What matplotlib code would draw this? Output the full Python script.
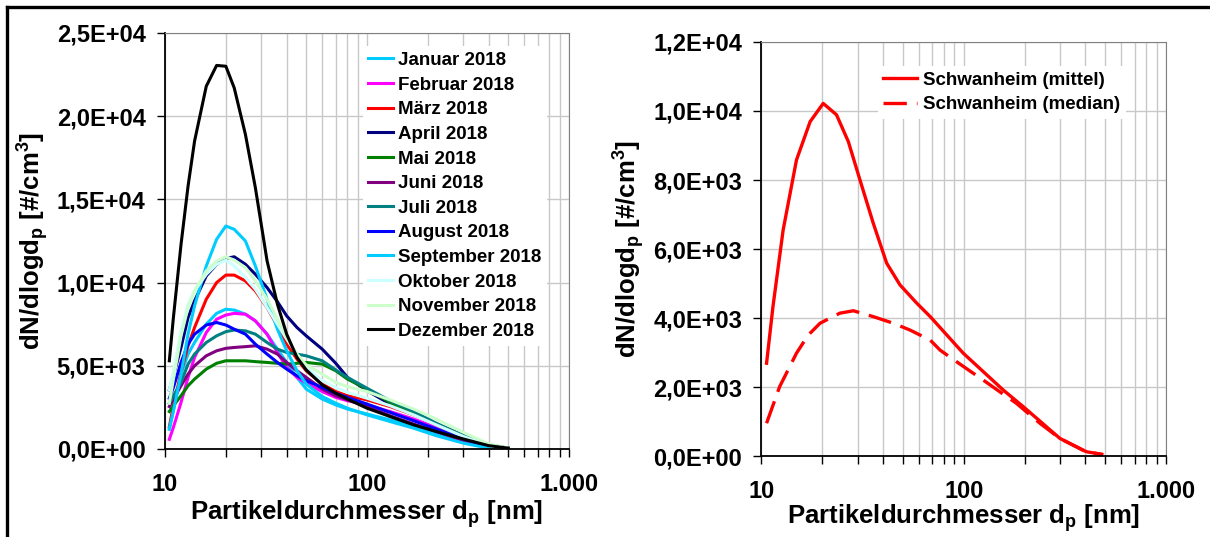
import numpy as np
import matplotlib
matplotlib.use('Agg')
import matplotlib.pyplot as plt
from matplotlib.lines import Line2D
from matplotlib.ticker import LogLocator, NullFormatter, FuncFormatter

plt.rcParams['font.family'] = ['Liberation Sans', 'DejaVu Sans']
plt.rcParams['font.weight'] = 'bold'
plt.rcParams['mathtext.fontset'] = 'custom'
plt.rcParams['mathtext.rm'] = 'Liberation Sans:bold'
plt.rcParams['mathtext.bf'] = 'Liberation Sans:bold'

# particle diameter grid of the monthly curves [nm]
diam = [10.5, 11, 12, 13, 14, 16, 18, 20, 22, 25, 28, 32, 36, 40, 45, 50,
        60, 70, 80, 100, 130, 170, 220, 300, 400, 500]

months = ['Januar 2018', 'Februar 2018', 'März 2018', 'April 2018', 'Mai 2018',
          'Juni 2018', 'Juli 2018', 'August 2018', 'September 2018',
          'Oktober 2018', 'November 2018', 'Dezember 2018']
month_colors = ['#00CCFF', '#FF00FF', '#FF0000', '#000080', '#008000', '#800080',
                '#008080', '#0000FF', '#00CCFF', '#CCFFFF', '#CCFFCC', '#000000']

jan = [1180, 2300, 4500, 5700, 6400, 7500, 8150, 8400, 8350, 8100, 7700, 6900, 6000,
       5200, 4300, 3600, 3000, 2650, 2400, 2100, 1750, 1350, 950, 450, 100, 0]
feb = [580, 1300, 2800, 4300, 5500, 7000, 7800, 8050, 8150, 8100, 7700, 6900, 5800,
       4900, 4300, 3950, 3450, 3100, 2900, 2650, 2250, 1800, 1300, 650, 200, 30]
mar = [1340, 2600, 4600, 6200, 7300, 9000, 10000, 10450, 10450, 10100, 9500, 8500, 7400,
       6300, 5400, 4700, 3900, 3450, 3200, 2950, 2550, 2050, 1500, 800, 250, 50]
apr = [3550, 4400, 6100, 7900, 8900, 10400, 11100, 11450, 11550, 11100, 10500, 9700, 8850,
       8000, 7300, 6800, 6000, 5150, 4300, 3500, 2700, 2100, 1500, 800, 250, 50]
mai = [2250, 2600, 3200, 3800, 4200, 4800, 5150, 5300, 5300, 5300, 5250, 5200, 5150,
       5100, 5150, 5200, 5100, 4700, 4200, 3600, 2800, 2100, 1450, 750, 200, 40]
jun = [2550, 3000, 3800, 4500, 5000, 5600, 5900, 6050, 6100, 6150, 6200, 6000, 5700,
       5200, 4700, 4300, 3600, 3200, 2950, 2550, 2000, 1500, 1050, 500, 150, 20]
jul = [2750, 3200, 4000, 5100, 5700, 6400, 6800, 7050, 7150, 7100, 6900, 6400, 6000,
       5800, 5700, 5600, 5300, 4750, 4300, 3650, 2900, 2250, 1550, 800, 250, 50]
aug = [3050, 3700, 5200, 6300, 6900, 7450, 7600, 7450, 7200, 6900, 6300, 5700, 5200,
       4800, 4400, 4100, 3700, 3350, 3100, 2700, 2200, 1700, 1200, 600, 150, 20]
sep = [1240, 2300, 4500, 6900, 8600, 11000, 12600, 13400, 13200, 12500, 11000, 9000, 7200,
       5900, 4700, 3900, 3150, 2750, 2450, 2050, 1650, 1250, 800, 350, 50, 0]
okt = [3550, 4700, 7100, 8700, 9500, 10500, 11100, 11350, 11000, 10300, 9600, 8500, 7500,
       6600, 5700, 4900, 4100, 3700, 3400, 3050, 2600, 2050, 1450, 750, 200, 30]
nov = [2750, 4200, 6800, 8500, 9500, 10700, 11300, 11550, 11350, 10900, 10100, 9000, 7800,
       6700, 5700, 5050, 4500, 4000, 3750, 3450, 2950, 2400, 1800, 1000, 300, 60]
dez = [5300, 7900, 12300, 15800, 18500, 21800, 23050, 23000, 21700, 18900, 15700, 11300, 8700,
       6900, 5500, 4750, 3850, 3350, 3000, 2450, 1950, 1450, 1050, 600, 200, 50]
month_values = [jan, feb, mar, apr, mai, jun, jul, aug, sep, okt, nov, dez]

# Schwanheim mean and median
diam_mittel = [10.6, 11.4, 12.8, 14.9, 17.4, 20.2, 23.5, 26.9, 30.7, 35.7, 41.6, 48.4,
               58.6, 68.3, 99.5, 157, 197, 299, 404, 480]
mittel = [2690, 4330, 6550, 8580, 9690, 10220, 9890, 9110, 8000, 6750, 5590, 4960,
          4430, 4040, 2980, 1910, 1430, 510, 125, 50]
diam_median = [10.6, 12.3, 14.9, 17, 19.5, 24.4, 28.5, 35.7, 44.8, 54.3, 68.3, 76.4,
               88.8, 107, 125, 151, 182, 238, 299, 400, 490]
median = [950, 2010, 2980, 3500, 3850, 4140, 4210, 4040, 3850, 3650, 3360, 3070,
          2800, 2470, 2200, 1860, 1530, 950, 510, 130, 40]

xticks = [10, 100, 1000]
xtick_labels = ['10', '100', '1.000']
xlabel = r'Partikeldurchmesser d$\mathrm{_p}$ [nm]'
ylabel = r'dN/dlogd$\mathrm{_p}$ [#/cm$\mathrm{^3}$]'

fs_tick = 17
fs_label = 18.5
fs_leg = 13.5


def sci_comma(v, pos):
    return '{:.1E}'.format(v).replace('.', ',')


def style_axes(ax, ymax, ystep):
    ax.set_xscale('log')
    ax.set_xlim(10, 1000)
    ax.set_ylim(0, ymax)
    ax.set_xticks(xticks)
    ax.set_xticklabels(xtick_labels)
    ax.xaxis.set_minor_locator(LogLocator(base=10, subs=np.arange(2, 10)))
    ax.xaxis.set_minor_formatter(NullFormatter())
    ax.set_yticks(np.arange(0, ymax + 1, ystep))
    ax.yaxis.set_major_formatter(FuncFormatter(sci_comma))
    ax.grid(True, which='both', axis='x', color='#C8C8C8', lw=1)
    ax.grid(True, which='major', axis='y', color='#C8C8C8', lw=1)
    ax.set_axisbelow(True)
    ax.tick_params(axis='both', which='both', direction='out', length=6, width=1,
                   labelsize=fs_tick, pad=8)
    ax.tick_params(axis='x', pad=11)
    for side in ['top', 'right']:
        ax.spines[side].set_color('#808080')
    for side in ['left', 'bottom']:
        ax.spines[side].set_color('black')
        ax.spines[side].set_linewidth(1.3)
    for lab in ax.get_xticklabels() + ax.get_yticklabels():
        lab.set_fontweight('bold')
    ax.set_ylabel(ylabel, fontsize=fs_label, fontweight='bold', labelpad=4)


fig = plt.figure(figsize=(12.1, 5.37), dpi=100)
ax1 = fig.add_axes([0.1364, 0.1639, 0.3339, 0.7747])
ax2 = fig.add_axes([0.6293, 0.1508, 0.3343, 0.7710])

for name, col, vals in zip(months, month_colors, month_values):
    ax1.plot(diam, vals, color=col, lw=2.2, label=name)
style_axes(ax1, 25000, 5000)
ax1.set_xlabel(xlabel, fontsize=fs_label, fontweight='bold', labelpad=2)
leg1 = ax1.legend(loc='upper right', bbox_to_anchor=(0.946, 0.968), borderaxespad=0,
                  frameon=True, fancybox=False, edgecolor='none', facecolor='white',
                  framealpha=1, fontsize=fs_leg, handlelength=1.3, handletextpad=0.3,
                  labelspacing=0.4, borderpad=0.3)

ax2.plot(diam_mittel, mittel, color='#FF0000', lw=2.4, label='Schwanheim (mittel)')
ax2.plot(diam_median, median, color='#FF0000', lw=2.4, dashes=(7, 3),
         label='Schwanheim (median)')
style_axes(ax2, 12000, 2000)
ax2.set_xlabel(xlabel, fontsize=fs_label, fontweight='bold', labelpad=0)
leg2 = ax2.legend(loc='upper right', bbox_to_anchor=(0.90, 0.942), borderaxespad=0,
                  frameon=True, fancybox=False, edgecolor='none', facecolor='white',
                  framealpha=1, fontsize=fs_leg, handlelength=1.8, handletextpad=0.3,
                  labelspacing=0.4, borderpad=0.3)

# outer frame of the figure
fig.add_artist(Line2D([7 / 1210, 1], [1 - 7 / 537, 1 - 7 / 537], color='black', lw=2.4,
                      transform=fig.transFigure))
fig.add_artist(Line2D([7 / 1210, 7 / 1210], [0, 1 - 7 / 537], color='black', lw=2.4,
                      transform=fig.transFigure))

plt.savefig('out.png', dpi=100)
